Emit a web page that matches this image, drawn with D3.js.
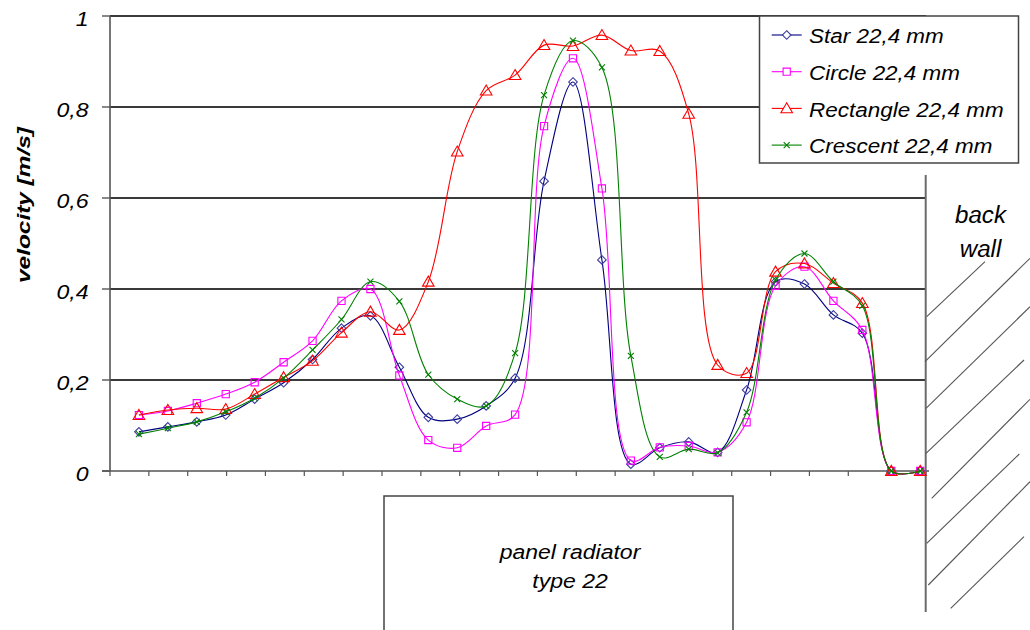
<!DOCTYPE html>
<html>
<head>
<meta charset="utf-8">
<script src="https://cdn.jsdelivr.net/npm/d3@7/dist/d3.min.js"></script>
<style>
  html, body { margin: 0; padding: 0; background: #fff; }
  svg { display: block; }
  text { font-family: "Liberation Sans", Arial, sans-serif; }
</style>
</head>
<body>
<svg id="chart" width="1030" height="630"></svg>
<script>
// ---- data ----
const positions = [1,2,3,4,5,6,7,8,9,10,11,12,13,14,15,16,17,18,19,20,21,22,23,24,25,26,27,28];
const seriesNames = ["Star 22,4 mm", "Circle 22,4 mm", "Rectangle 22,4 mm", "Crescent 22,4 mm"];
const starValues = [0.086,0.097,0.108,0.123,0.158,0.194,0.245,0.314,0.341,0.228,0.118,0.114,0.143,0.204,0.637,0.855,0.464,0.015,0.051,0.064,0.041,0.178,0.416,0.411,0.343,0.303,0,0];
const circleValues = [0.123,0.132,0.149,0.169,0.195,0.239,0.286,0.374,0.400,0.210,0.068,0.051,0.099,0.124,0.758,0.907,0.621,0.023,0.052,0.055,0.041,0.107,0.407,0.449,0.374,0.310,0,0];
const rectangleValues = [0.123,0.134,0.138,0.136,0.169,0.206,0.242,0.304,0.350,0.310,0.416,0.702,0.836,0.870,0.936,0.934,0.958,0.924,0.923,0.785,0.233,0.215,0.438,0.456,0.413,0.369,0,0];
const crescentValues = [0.081,0.094,0.108,0.130,0.160,0.204,0.266,0.333,0.416,0.373,0.212,0.158,0.143,0.259,0.826,0.946,0.887,0.253,0.031,0.048,0.040,0.129,0.420,0.478,0.416,0.363,0,0];
const yTickValues = [0, 0.2, 0.4, 0.6, 0.8, 1];
const yTickLabels = ["0", "0,2", "0,4", "0,6", "0,8", "1"];
const yTitle = "velocity [m/s]";
const panelLines = ["panel radiator", "type 22"];
const wallLines = ["back", "wall"];

const seriesColors = ["#000080", "#ff00ff", "#ff0000", "#008000"];
const seriesMarkers = ["diamond", "square", "triangle", "cross"];

// ---- layout ----
const svg = d3.select("#chart");
const xMax = 28.2;
const x = d3.scaleLinear().domain([0, xMax]).range([110, 926]);
const y = d3.scaleLinear().domain([0, 1]).range([471, 16]);
const xTicks = d3.range(0, 22).map(i => i * xMax / 21);

svg.append("rect").attr("width", 1030).attr("height", 630).attr("fill", "#fff");

// gridlines
svg.append("g").selectAll("line").data(yTickValues.filter(v => v > 0)).join("line")
  .attr("x1", x(0)).attr("x2", x(xMax))
  .attr("y1", d => y(d)).attr("y2", d => y(d))
  .attr("stroke", "#3a3a3a").attr("stroke-width", 1.2).attr("shape-rendering", "crispEdges");

// y axis
svg.append("line").attr("x1", x(0)).attr("x2", x(0)).attr("y1", y(1)).attr("y2", y(0))
  .attr("stroke", "#555").attr("stroke-width", 1.6);
svg.append("g").selectAll("line").data(yTickValues).join("line")
  .attr("x1", x(0) - 8).attr("x2", x(0))
  .attr("y1", d => y(d)).attr("y2", d => y(d))
  .attr("stroke", "#555").attr("stroke-width", 1.4);
svg.append("g").selectAll("text").data(yTickValues).join("text")
  .attr("transform", d => `translate(88.5,${y(d) + 9.5}) scale(1.1,1)`)
  .attr("text-anchor", "end").attr("font-size", 21).attr("font-style", "italic")
  .attr("fill", "#000")
  .text((d, i) => yTickLabels[i]);

svg.append("text")
  .attr("transform", "translate(29.5,205) rotate(-90)")
  .attr("text-anchor", "middle").attr("font-size", 18).attr("font-weight", "bold")
  .attr("font-style", "italic").attr("textLength", 156).attr("lengthAdjust", "spacingAndGlyphs")
  .text(yTitle);

// x axis
svg.append("line").attr("x1", x(0) - 8).attr("x2", x(xMax) + 3).attr("y1", y(0)).attr("y2", y(0))
  .attr("stroke", "#555").attr("stroke-width", 1.6);
svg.append("g").selectAll("line").data(xTicks).join("line")
  .attr("x1", d => x(d)).attr("x2", d => x(d))
  .attr("y1", y(0)).attr("y2", y(0) + 5)
  .attr("stroke", "#555").attr("stroke-width", 1.2);

// back wall
svg.append("line").attr("x1", 925.7).attr("x2", 925.7).attr("y1", 175).attr("y2", 612)
  .attr("stroke", "#6a6a6a").attr("stroke-width", 2);
const hatch = [[926.7,316.7,985,261.7],[925,361.7,1030,258.3],[926,408.3,1030,306.7],[926,453.3,1024,360],
  [931.7,498.3,1030,399.3],[926.7,543.3,1019.3,454],[928.3,585,1030,481.7],[950.7,608.3,1024,536.7]];
svg.append("g").selectAll("line").data(hatch).join("line")
  .attr("x1", d => d[0]).attr("y1", d => d[1]).attr("x2", d => d[2]).attr("y2", d => d[3])
  .attr("stroke", "#555").attr("stroke-width", 1.1);
svg.append("g").selectAll("text").data(wallLines).join("text")
  .attr("transform", (d, i) => `translate(980.5,${223.3 + i * 33.4}) scale(1.05,1)`)
  .attr("text-anchor", "middle").attr("font-size", 23).attr("font-style", "italic")
  .text(d => d);

// panel radiator
svg.append("path").attr("d", "M384,632 L384,496 L733,496 L733,632")
  .attr("fill", "none").attr("stroke", "#444").attr("stroke-width", 1.5);
svg.append("g").selectAll("text").data(panelLines).join("text")
  .attr("transform", (d, i) => `translate(570,${559 + i * 29.3}) scale(1.18,1)`)
  .attr("text-anchor", "middle").attr("font-size", 19.5).attr("font-style", "italic")
  .text(d => d);

// markers
function markerPath(type) {
  switch (type) {
    case "diamond": return "M0,-4.3L4.3,0L0,4.3L-4.3,0Z";
    case "square": return "M-3.6,-3.6H3.6V3.6H-3.6Z";
    case "triangle": return "M0,-5.6L5.8,4.4H-5.8Z";
    case "cross": return "M-3,-3L3,3M-3,3L3,-3";
  }
}

const allSeries = [starValues, circleValues, rectangleValues, crescentValues];
const line = d3.line().x(d => x(d[0])).y(d => y(d[1])).curve(d3.curveCatmullRom.alpha(0.5));

allSeries.forEach((vals, si) => {
  const pts = positions.map((p, i) => [p, vals[i]]);
  const g = svg.append("g");
  g.append("path").attr("d", line(pts)).attr("fill", "none")
    .attr("stroke", seriesColors[si]).attr("stroke-width", 1.1);
  g.selectAll("path.m").data(pts).join("path").attr("class", "m")
    .attr("transform", d => `translate(${x(d[0])},${y(d[1])})`)
    .attr("d", markerPath(seriesMarkers[si]))
    .attr("fill", "none")
    .attr("stroke", seriesColors[si] === "#000080" ? "#3c3ca0" : seriesColors[si])
    .attr("stroke-width", 1.1);
});

// legend
const lg = svg.append("g");
lg.append("rect").attr("x", 759.5).attr("y", 16).attr("width", 259).attr("height", 147)
  .attr("fill", "#fff").attr("stroke", "#444").attr("stroke-width", 1.5);
seriesNames.forEach((name, i) => {
  const cy = 35 + i * 36.7;
  lg.append("line").attr("x1", 771.7).attr("x2", 801.7).attr("y1", cy).attr("y2", cy)
    .attr("stroke", seriesColors[i]).attr("stroke-width", 1.1);
  lg.append("path").attr("transform", `translate(786.7,${cy})`).attr("d", markerPath(seriesMarkers[i]))
    .attr("fill", seriesMarkers[i] === "cross" ? "none" : "#fff")
    .attr("stroke", seriesColors[i] === "#000080" ? "#3c3ca0" : seriesColors[i]).attr("stroke-width", 1.1);
  lg.append("text").attr("transform", `translate(809,${cy + 8.3}) scale(1.07,1)`)
    .attr("font-size", 21).attr("font-style", "italic").text(name);
});
</script>
</body>
</html>
